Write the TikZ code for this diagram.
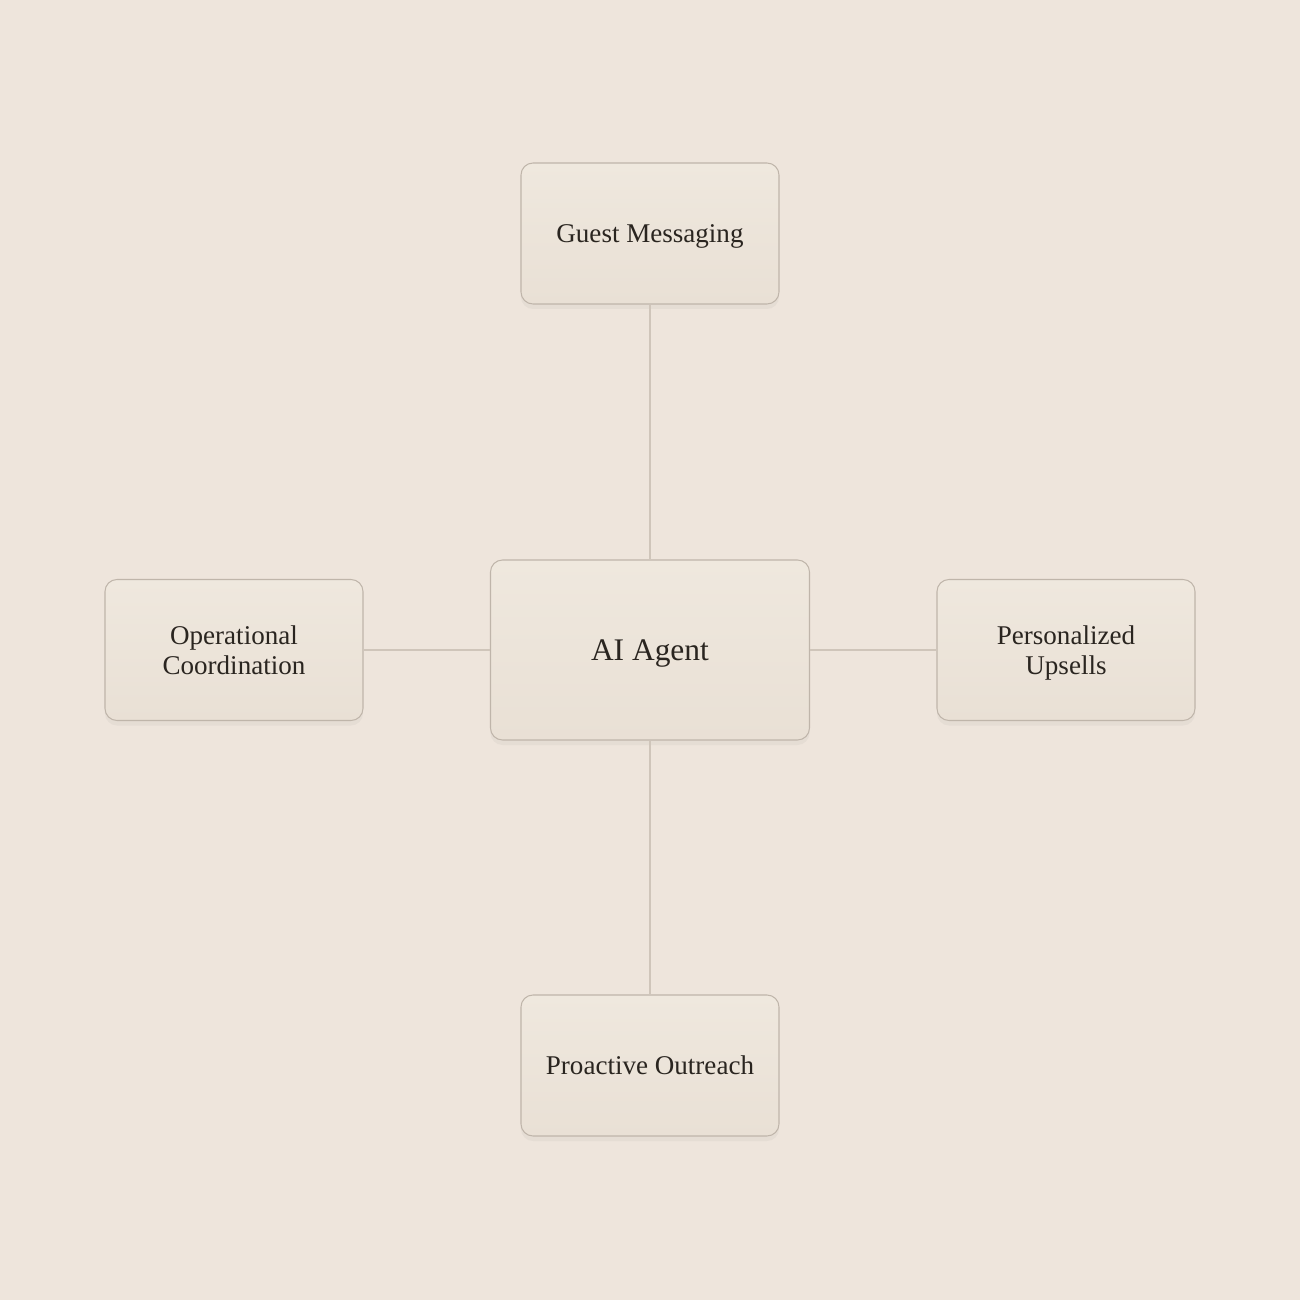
\documentclass[tikz,border=0pt]{standalone}
\usepackage{fontspec}
\setmainfont{Liberation Serif}
\usetikzlibrary{shadows}

\definecolor{paper}{HTML}{EEE5DC}
\definecolor{cardhi}{HTML}{EFE8DE}
\definecolor{cardlo}{HTML}{E9E0D5}
\definecolor{cardline}{HTML}{BFB5AA}
\definecolor{wire}{HTML}{CFC5BA}
\definecolor{ink}{HTML}{2A2520}

\begin{document}
\begin{tikzpicture}[
    card/.style={draw=cardline, line width=0.6pt, rounded corners=0.24cm,
        top color=cardhi, bottom color=cardlo,
        minimum width=5.16cm, minimum height=2.82cm, align=center,
        text depth=0pt, text=ink, font=\fontsize{15.4}{17}\selectfont,
        drop shadow={shadow xshift=0cm, shadow yshift=-0.1cm, opacity=0.08}},
    hub/.style={card, minimum width=6.38cm, minimum height=3.6cm,
        font=\fontsize{17.9}{21}\selectfont},
    wire/.style={draw=wire, line width=0.6pt}
]
    \fill[paper] (-13, -13) rectangle (13, 13);
    \useasboundingbox (-13, -13) rectangle (13, 13);

    \node[hub] at (0, 0)(agent){AI Agent};
    \node[card] at (0, 8.33)(guest){Guest Messaging};
    \node[card] at (-8.32, 0)(ops){Operational\\Coordination};
    \node[card] at (8.32, 0)(upsell){Personalized\\Upsells};
    \node[card] at (0, -8.31)(outreach){Proactive Outreach};

    \path[wire]
    (guest) -- (agent)
    (ops) -- (agent)
    (upsell) -- (agent)
    (outreach) -- (agent)
    ;
\end{tikzpicture}
\end{document}
